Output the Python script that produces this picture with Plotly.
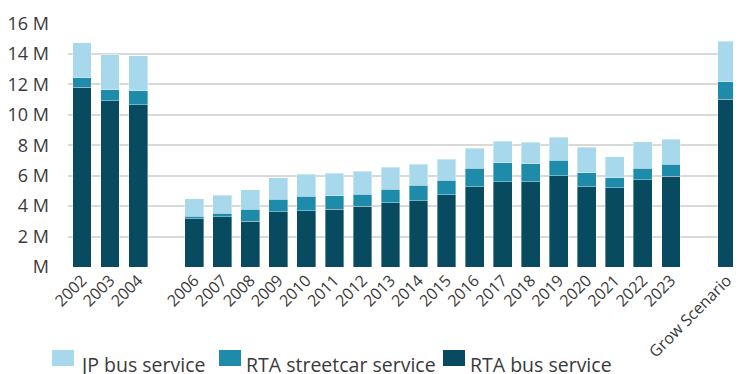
import plotly.graph_objects as go

categories = ["2002", "2003", "2004", " ", "2006", "2007", "2008", "2009", "2010",
              "2011", "2012", "2013", "2014", "2015", "2016", "2017", "2018", "2019",
              "2020", "2021", "2022", "2023", "  ", "Grow Scenario"]

# values in millions
rta_bus = [11.81, 10.92, 10.65, None, 3.16, 3.30, 3.01, 3.62, 3.69, 3.78, 3.99, 4.21,
           4.34, 4.74, 5.26, 5.59, 5.59, 5.98, 5.26, 5.20, 5.72, 5.96, None, 11.02]
rta_streetcar = [0.63, 0.72, 0.94, None, 0.18, 0.24, 0.79, 0.83, 0.96, 0.91, 0.79, 0.90,
                 1.03, 0.96, 1.22, 1.27, 1.20, 1.03, 0.92, 0.65, 0.76, 0.79, None, 1.16]
jp_bus = [2.29, 2.29, 2.29, None, 1.13, 1.18, 1.29, 1.42, 1.46, 1.47, 1.51, 1.46,
          1.38, 1.37, 1.33, 1.39, 1.40, 1.50, 1.70, 1.38, 1.75, 1.63, None, 2.66]

y_tickvals = [0, 2, 4, 6, 8, 10, 12, 14, 16]
y_ticktext = ["M", "2 M", "4 M", "6 M", "8 M", "10 M", "12 M", "14 M", "16 M"]

series = [
    ("RTA bus service", rta_bus, "#084b60"),
    ("RTA streetcar service", rta_streetcar, "#1e8bab"),
    ("JP bus service", jp_bus, "#a8d8eb"),
]

FONT = "Open Sans, Noto Sans, sans-serif"
TXT = "#3a3a3a"

fig = go.Figure()
for name, vals, color in series:
    fig.add_trace(go.Bar(
        x=categories, y=vals, name=name,
        marker=dict(color=color, line=dict(color="rgba(255,255,255,0.45)", width=0.8)),
        showlegend=False,
    ))

# page offset of the figure inside the browser page (default body margin)
OFF = 8
W, H = 741 - OFF, 374 - OFF
L, T = 68 - OFF, 23 - OFF
R = 0
B = H - (267 - OFF)
pw = W - L - R
ph = H - T - B

def px_to_paper_x(px):
    return (px - OFF - L) / pw

def py_to_paper_y(py):
    return ((267 - OFF) - (py - OFF)) / ph

# custom legend (order as in reference)
legend_items = [("JP bus service", "#a8d8eb", 52, 80),
                ("RTA streetcar service", "#1e8bab", 219, 246),
                ("RTA bus service", "#084b60", 443, 470)]

shapes = []
annotations = []
for name, color, bx, tx in legend_items:
    shapes.append(dict(type="rect", xref="paper", yref="paper",
                       x0=px_to_paper_x(bx), x1=px_to_paper_x(bx + 22),
                       y0=py_to_paper_y(366), y1=py_to_paper_y(350),
                       fillcolor=color, line=dict(width=0)))
    annotations.append(dict(text=name, xref="paper", yref="paper",
                            x=px_to_paper_x(tx - 2), y=py_to_paper_y(364),
                            xanchor="left", yanchor="middle", showarrow=False,
                            font=dict(family=FONT, size=19.5, color=TXT)))

fig.update_layout(
    barmode="stack",
    bargap=0.33,
    width=W, height=H,
    margin=dict(l=L, r=R, t=T, b=B, autoexpand=False),
    plot_bgcolor="white", paper_bgcolor="white",
    font=dict(family=FONT, color=TXT),
    shapes=shapes,
    annotations=annotations,
)
fig.update_xaxes(
    type="category", categoryorder="array", categoryarray=categories,
    tickangle=-45, tickfont=dict(size=16, color=TXT),
    showgrid=False, showline=False, zeroline=False, ticks="",
    automargin=False,
)
fig.update_yaxes(
    range=[0, 16.03], tickvals=y_tickvals, ticktext=y_ticktext,
    tickfont=dict(size=18, color=TXT),
    showgrid=True, gridcolor="#d9d9d9", gridwidth=2,
    zeroline=False, showline=False, ticks="", ticklabelstandoff=18,
    automargin=False,
)

fig.write_html("out.html")
